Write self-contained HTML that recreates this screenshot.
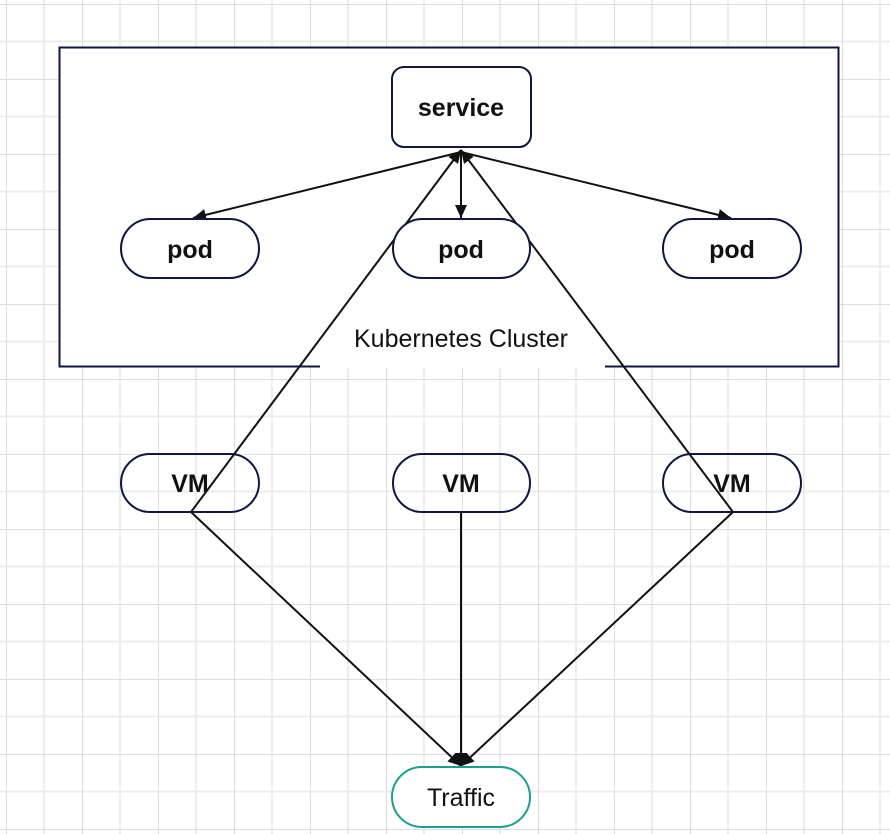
<!DOCTYPE html>
<html><head><style>
html,body{margin:0;padding:0;background:#fff;}
body{width:890px;height:834px;overflow:hidden;position:relative;}
</style></head><body>
<svg width="890" height="834" xmlns="http://www.w3.org/2000/svg" style="position:absolute;left:0;top:0">
<defs>
<pattern id="g" x="6" y="4" width="76" height="75" patternUnits="userSpaceOnUse">
<rect width="76" height="75" fill="#fff"/>
<line x1="38" y1="0" x2="38" y2="75" stroke="#ededed" stroke-width="2"/>
<line x1="0" y1="37.5" x2="76" y2="37.5" stroke="#ededed" stroke-width="2"/>
<line x1="0" y1="0" x2="0" y2="75" stroke="#dedede" stroke-width="2"/>
<line x1="0" y1="0" x2="76" y2="0" stroke="#dedede" stroke-width="2"/>
</pattern>
<marker id="b" markerWidth="14" markerHeight="14" refX="13" refY="7" orient="auto" markerUnits="userSpaceOnUse"><path d="M0,1 L13,7 L0,13 Z" fill="#111"/></marker>
</defs>
<rect width="890" height="834" fill="url(#g)"/>
<rect x="59.5" y="47.5" width="779" height="319" fill="#fff" stroke="#0f1640" stroke-width="2"/>
<rect x="320" y="322" width="285" height="46" fill="#fff"/>
<text x="461" y="347" font-family="Liberation Sans, sans-serif" font-size="25" text-anchor="middle" fill="#111">Kubernetes Cluster</text>
<g stroke="#111" stroke-width="2" fill="none">
<line x1="461" y1="152" x2="193" y2="218" marker-end="url(#b)"/>
<line x1="461" y1="152" x2="461" y2="218" marker-end="url(#b)"/>
<line x1="461" y1="152" x2="731" y2="218" marker-end="url(#b)"/>
<line x1="191" y1="512" x2="461" y2="150" marker-end="url(#b)"/>
<line x1="733" y1="512" x2="461" y2="150" marker-end="url(#b)"/>
<line x1="191" y1="512" x2="461" y2="766" marker-end="url(#b)"/>
<line x1="461" y1="512" x2="461" y2="766" marker-end="url(#b)"/>
<line x1="733" y1="512" x2="461" y2="766" marker-end="url(#b)"/>
</g>
<g stroke="#0f1640" stroke-width="2" fill="#fff">
<rect x="392" y="67" width="139" height="80" rx="12"/>
<rect x="121" y="219" width="138" height="59" rx="29.5"/>
<rect x="393" y="219" width="137" height="59" rx="29.5"/>
<rect x="663" y="219" width="138" height="59" rx="29.5"/>
</g>
<g stroke="#0f1640" stroke-width="2" fill="none">
<rect x="121" y="454" width="138" height="58" rx="29"/>
<rect x="393" y="454" width="137" height="58" rx="29"/>
<rect x="663" y="454" width="138" height="58" rx="29"/>
</g>
<rect x="392" y="767" width="138" height="60" rx="30" fill="#fff" stroke="#1aa08a" stroke-width="2"/>
<g font-family="Liberation Sans, sans-serif" font-size="25" font-weight="bold" text-anchor="middle" fill="#111">
<text x="461" y="116">service</text>
<text x="190" y="258">pod</text>
<text x="461" y="258">pod</text>
<text x="732" y="258">pod</text>
<text x="190" y="492">VM</text>
<text x="461" y="492">VM</text>
<text x="732" y="492">VM</text>
</g>
<text x="461" y="806" font-family="Liberation Sans, sans-serif" font-size="25" text-anchor="middle" fill="#111">Traffic</text>
</svg>
</body></html>
